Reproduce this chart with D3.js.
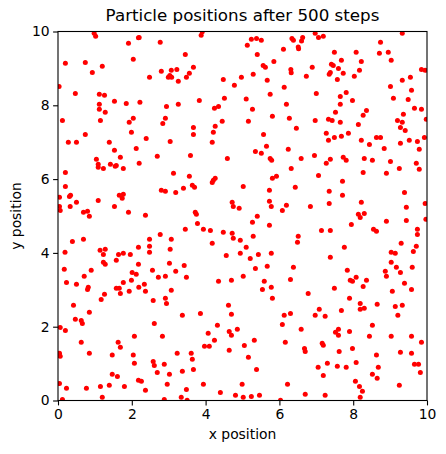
<!DOCTYPE html>
<html>
<head>
<meta charset="utf-8">
<script src="https://cdn.jsdelivr.net/npm/d3@7"></script>
<style>
  body { margin: 0; background: #fff; }
  svg { display: block; font-family: 'DejaVu Sans', sans-serif; }
</style>
</head>
<body>
<svg id="area" width="446" height="454"></svg>
<script>
// particle positions (top, middle, bottom x left, centre, right)
const xTopLeft = [0.98, 1.02, 1.91, 2.18, 2.20, 2.77, 0.20, 0.74, 1.20, 0.93, 2.04, 2.48, 2.80, 3.07, 2.99, 3.08, 3.03, 0.03, 0.47, 1.12, 1.26, 1.12, 1.12, 1.28, 1.53, 1.85, 2.22, 2.94, 0.12, 1.15, 2.04, 1.93, 2.91, 2.84, 1.99, 0.74, 2.39, 0.28, 0.50, 1.39, 3.04, 2.12];
const yTopLeft = [9.95, 9.87, 9.68, 9.83, 9.84, 9.71, 9.14, 9.16, 9.06, 8.89, 9.25, 8.76, 8.92, 8.95, 8.76, 8.76, 8.81, 8.51, 8.32, 8.30, 8.27, 8.03, 7.89, 7.81, 8.11, 8.05, 8.08, 7.97, 7.59, 7.59, 7.65, 7.54, 7.65, 7.51, 7.27, 7.21, 7.10, 7.00, 7.00, 7.00, 7.02, 6.83];

const xTopMid = [3.91, 3.88, 5.13, 5.24, 5.38, 5.51, 6.34, 6.38, 6.51, 6.52, 6.11, 3.45, 5.40, 5.85, 5.56, 5.62, 3.22, 3.67, 3.56, 3.48, 3.26, 6.31, 6.32, 5.29, 4.97, 4.48, 4.78, 5.67, 6.13, 5.75, 4.51, 3.83, 5.10, 3.26, 4.35, 4.24, 5.27, 6.19, 5.81, 6.27, 4.45, 5.16, 4.26, 3.67, 6.46, 4.21, 3.67, 5.57, 4.18, 5.65, 6.24];
const yTopMid = [9.99, 9.90, 9.63, 9.79, 9.81, 9.76, 9.81, 9.76, 9.58, 9.53, 9.52, 9.38, 9.38, 9.19, 9.08, 9.03, 8.97, 9.03, 8.87, 8.76, 8.65, 8.97, 8.88, 8.84, 8.76, 8.70, 8.54, 8.68, 8.49, 8.30, 8.19, 8.13, 8.17, 8.03, 7.97, 7.92, 7.89, 8.03, 7.70, 7.65, 7.57, 7.57, 7.43, 7.40, 7.38, 7.27, 7.21, 7.21, 7.00, 6.89, 6.81];

const xTopRight = [6.97, 7.06, 7.19, 6.63, 6.60, 9.33, 8.74, 7.49, 8.08, 8.71, 8.95, 7.68, 8.22, 9.03, 6.89, 7.41, 7.46, 7.60, 7.38, 7.35, 7.73, 8.17, 6.73, 7.57, 8.03, 9.85, 9.95, 9.33, 9.55, 9.01, 9.58, 7.00, 7.81, 7.65, 7.98, 9.09, 9.49, 7.65, 9.66, 9.85, 8.36, 7.52, 8.27, 9.36, 7.33, 7.43, 6.97, 7.65, 8.14, 9.20, 9.33, 9.28, 9.41, 9.98, 7.27, 7.87, 7.49, 7.68, 7.33, 8.22, 8.63, 8.74, 8.44, 9.52, 9.74, 9.93, 9.28, 8.84, 9.79];
const yTopRight = [9.95, 9.84, 9.87, 9.84, 9.74, 9.95, 9.71, 9.44, 9.44, 9.41, 9.44, 9.22, 9.19, 9.22, 9.03, 9.11, 9.08, 9.00, 8.89, 8.84, 8.87, 8.95, 8.79, 8.70, 8.79, 8.97, 8.95, 8.68, 8.76, 8.51, 8.41, 8.32, 8.35, 8.24, 8.13, 8.19, 8.16, 8.03, 7.92, 7.89, 7.86, 7.81, 7.73, 7.76, 7.62, 7.59, 7.59, 7.54, 7.48, 7.59, 7.54, 7.40, 7.32, 7.62, 7.24, 7.24, 7.13, 7.16, 7.05, 7.05, 7.13, 7.13, 6.94, 7.05, 7.02, 7.13, 6.97, 6.83, 6.81];

const xMidLeft = [1.53, 1.04, 1.09, 1.09, 1.23, 1.42, 1.55, 1.58, 1.69, 1.77, 2.20, 2.69, 0.20, 3.13, 0.20, 0.04, 0.31, 0.34, 0.50, 0.33, 0.04, 0.06, 1.09, 1.66, 1.77, 1.74, 1.53, 0.69, 0.80, 0.85, 1.91, 2.37, 2.80, 2.91, 0.39, 0.69, 0.19, 1.14, 1.28, 1.23, 1.64, 1.77, 1.96, 1.58, 1.23, 1.28, 2.18, 2.48, 2.48, 2.48, 2.77, 3.07, 3.04, 0.17, 0.90, 2.18, 3.02, 2.56, 2.01, 2.12];
const yMidLeft = [6.78, 6.54, 6.40, 6.32, 6.29, 6.40, 6.35, 6.37, 6.59, 6.29, 6.43, 6.62, 6.18, 6.16, 5.80, 5.51, 5.53, 5.56, 5.37, 5.26, 5.26, 5.15, 5.42, 5.56, 5.59, 5.48, 5.26, 5.10, 5.13, 4.99, 5.10, 5.02, 5.70, 5.67, 4.31, 4.37, 4.02, 4.07, 4.10, 3.96, 3.96, 3.99, 3.96, 3.80, 3.75, 3.69, 4.15, 4.37, 4.18, 4.02, 4.50, 4.37, 4.10, 3.56, 3.53, 3.69, 3.72, 3.53, 3.47, 3.42];

const xMidMid = [3.19, 3.59, 4.59, 5.35, 5.51, 5.75, 5.79, 3.56, 3.64, 3.70, 3.40, 4.26, 4.21, 4.18, 5.02, 5.81, 5.92, 6.32, 5.73, 6.43, 4.72, 4.75, 4.91, 5.73, 5.78, 6.19, 6.08, 3.72, 3.75, 3.78, 3.45, 3.94, 4.13, 5.40, 5.27, 5.73, 4.48, 4.72, 4.75, 4.94, 5.29, 6.51, 6.49, 4.18, 5.10, 4.56, 4.94, 5.21, 5.43, 5.78, 3.42, 5.35, 5.67, 6.38, 3.19];
const yMidMid = [5.64, 6.64, 6.56, 6.75, 6.70, 6.56, 6.51, 6.08, 5.83, 5.78, 5.75, 6.02, 5.97, 5.91, 5.80, 6.02, 6.08, 6.29, 5.70, 5.78, 5.37, 5.26, 5.21, 5.40, 5.26, 5.29, 5.15, 5.10, 5.05, 4.80, 4.64, 4.64, 4.61, 4.99, 4.83, 4.75, 4.56, 4.53, 4.40, 4.34, 4.45, 4.45, 4.29, 4.26, 4.15, 3.93, 3.99, 3.85, 3.96, 3.99, 3.66, 3.58, 3.64, 3.61, 3.50];

const xMidRight = [6.59, 6.95, 7.27, 7.38, 7.73, 7.81, 8.30, 8.52, 9.01, 9.25, 9.71, 9.79, 7.06, 8.27, 8.90, 7.71, 7.35, 7.71, 9.39, 7.35, 6.84, 8.22, 8.14, 8.19, 8.30, 9.44, 9.95, 8.90, 9.44, 9.97, 7.95, 7.14, 7.38, 8.55, 8.63, 9.74, 9.74, 9.30, 9.71, 9.63, 7.76, 9.03, 9.14, 7.38, 9.03, 7.84, 9.17, 9.60, 8.87, 9.28];
const yMidRight = [6.56, 6.64, 6.43, 6.54, 6.59, 6.51, 6.56, 6.51, 6.48, 6.29, 6.43, 6.27, 6.10, 6.18, 6.16, 5.94, 5.67, 5.56, 5.64, 5.34, 5.26, 5.37, 5.05, 4.96, 5.07, 5.24, 5.34, 4.86, 4.88, 4.91, 4.77, 4.61, 4.61, 4.64, 4.59, 4.64, 4.50, 4.26, 4.18, 4.04, 4.15, 4.02, 3.99, 3.88, 3.75, 3.53, 3.61, 3.61, 3.50, 3.47];

const xLowLeft = [0.23, 0.50, 0.71, 0.80, 0.82, 1.17, 1.26, 1.58, 1.66, 1.69, 1.77, 1.93, 1.99, 2.19, 2.34, 2.37, 2.72, 2.91, 2.58, 2.91, 2.94, 3.07, 0.42, 0.47, 0.63, 0.66, 0.85, 0.06, 0.20, 2.61, 0.63, 0.85, 0.04, 0.06, 1.47, 1.63, 1.69, 2.07, 2.83, 2.04, 2.07, 2.58, 2.61, 2.88, 2.69, 3.02, 1.47, 1.61, 2.18, 2.26, 1.15, 1.39, 1.80, 2.96, 0.04, 0.23, 0.77, 2.37, 1.20, 0.12, 2.88];
const yLowLeft = [3.20, 3.15, 3.37, 3.01, 3.07, 2.74, 2.88, 3.04, 3.04, 2.90, 3.20, 2.96, 3.26, 3.07, 3.15, 2.96, 3.34, 3.37, 2.71, 2.77, 2.63, 2.99, 2.58, 2.20, 2.17, 2.09, 2.39, 1.98, 1.90, 2.09, 1.58, 1.28, 1.28, 1.20, 1.23, 1.58, 1.44, 1.74, 1.74, 1.23, 1.01, 1.06, 0.95, 0.98, 0.76, 0.71, 0.71, 0.65, 0.55, 0.52, 0.38, 0.41, 0.38, 0.44, 0.46, 0.33, 0.33, 0.28, 0.09, 0.03, 0.03];

const xLowMid = [3.48, 4.35, 4.70, 5.02, 5.59, 5.54, 5.78, 5.81, 6.30, 4.62, 4.70, 3.86, 3.37, 4.32, 4.86, 4.64, 4.70, 4.07, 4.24, 3.97, 4.10, 5.05, 5.32, 4.64, 5.16, 3.23, 3.61, 3.64, 3.67, 3.37, 5.38, 6.13, 6.30, 6.08, 6.16, 3.94, 4.99, 6.22, 3.48, 4.40, 3.34, 3.50, 4.81, 5.02, 5.24, 5.46, 6.03];
const yLowMid = [3.34, 3.23, 3.26, 3.37, 3.23, 3.01, 3.07, 2.77, 3.28, 2.58, 2.34, 2.36, 2.31, 2.04, 1.93, 1.87, 1.77, 1.82, 1.63, 1.47, 1.47, 1.49, 1.63, 1.36, 1.17, 1.28, 1.28, 1.12, 0.84, 0.79, 0.84, 2.31, 2.36, 2.06, 1.58, 0.44, 0.44, 0.44, 0.30, 0.22, 0.09, 0.01, 0.14, 0.09, 0.11, 0.14, 0.01];

const xLowRight = [7.92, 7.98, 8.08, 8.36, 8.90, 8.27, 9.39, 9.58, 9.06, 6.78, 7.49, 7.90, 8.19, 8.19, 8.30, 8.65, 9.14, 9.33, 9.21, 7.08, 6.97, 7.24, 7.68, 6.59, 7.52, 7.60, 7.60, 7.90, 8.52, 8.44, 9.03, 9.58, 9.85, 7.16, 7.19, 6.68, 6.70, 7.62, 7.98, 8.63, 9.28, 9.58, 8.08, 7.30, 7.05, 7.57, 7.81, 8.68, 9.66, 9.77, 9.82, 8.52, 8.65, 7.19, 8.06, 8.17, 8.25, 8.19, 9.25, 6.70, 7.24];
const yLowRight = [3.26, 3.23, 3.34, 3.26, 3.37, 3.09, 3.18, 3.01, 2.96, 2.90, 3.04, 2.77, 2.63, 2.47, 2.50, 2.61, 2.55, 2.58, 2.31, 2.47, 2.31, 2.28, 2.44, 1.93, 1.85, 1.93, 1.77, 1.87, 2.04, 1.74, 1.74, 1.74, 1.58, 1.55, 1.50, 1.41, 1.33, 1.33, 1.41, 1.23, 1.31, 1.28, 1.03, 1.01, 0.90, 0.93, 0.90, 0.90, 0.98, 0.98, 0.76, 0.71, 0.60, 0.68, 0.52, 0.38, 0.25, 0.09, 0.41, 0.17, 0.14];

const ticks = [0, 2, 4, 6, 8, 10];
const title = 'Particle positions after 500 steps';

const xs = [].concat(xTopLeft, xTopMid, xTopRight, xMidLeft, xMidMid, xMidRight, xLowLeft, xLowMid, xLowRight);
const ys = [].concat(yTopLeft, yTopMid, yTopRight, yMidLeft, yMidMid, yMidRight, yLowLeft, yLowMid, yLowRight);
const points = d3.zip(xs, ys);

const margin = { top: 31.5, left: 58, size: 369 };
const svg = d3.select('#area');

const x = d3.scaleLinear().domain([0, 10]).range([margin.left, margin.left + margin.size]);
const y = d3.scaleLinear().domain([0, 10]).range([margin.top + margin.size, margin.top]);

svg.append('clipPath')
  .attr('id', 'clip')
  .append('rect')
  .attr('x', margin.left)
  .attr('y', margin.top)
  .attr('width', margin.size)
  .attr('height', margin.size);

svg.append('g')
  .attr('clip-path', 'url(#clip)')
  .selectAll('circle')
  .data(points)
  .join('circle')
  .attr('cx', (d) => x(d[0]))
  .attr('cy', (d) => y(d[1]))
  .attr('r', 2.5)
  .attr('fill', '#ff0000');

const xAxis = d3.axisBottom(x).tickValues(ticks).tickSize(4.9).tickPadding(3.5).tickSizeOuter(0);
const yAxis = d3.axisLeft(y).tickValues(ticks).tickSize(4.9).tickPadding(3.5).tickSizeOuter(0);

const gx = svg.append('g')
  .attr('transform', `translate(0, ${margin.top + margin.size})`)
  .call(xAxis);
const gy = svg.append('g')
  .attr('transform', `translate(${margin.left}, 0)`)
  .call(yAxis);

[gx, gy].forEach((g) => {
  g.select('.domain').remove();
  g.selectAll('line').attr('stroke', '#000').attr('stroke-width', 1.1);
  g.selectAll('text')
    .attr('fill', '#000')
    .style('font-family', "'DejaVu Sans', sans-serif")
    .style('font-size', '13.9px');
});

// frame on top of the dots
svg.append('rect')
  .attr('x', margin.left)
  .attr('y', margin.top)
  .attr('width', margin.size)
  .attr('height', margin.size)
  .attr('fill', 'none')
  .attr('stroke', '#000')
  .attr('stroke-width', 1.1);

svg.append('text')
  .attr('x', margin.left + margin.size / 2)
  .attr('y', 21)
  .attr('text-anchor', 'middle')
  .style('font-size', '16.7px')
  .attr('fill', '#000')
  .text(title);

svg.append('text')
  .attr('x', margin.left + margin.size / 2)
  .attr('y', 439)
  .attr('text-anchor', 'middle')
  .style('font-size', '13.9px')
  .attr('fill', '#000')
  .text('x position');

svg.append('text')
  .attr('transform', `translate(21, ${margin.top + margin.size / 2}) rotate(-90)`)
  .attr('text-anchor', 'middle')
  .style('font-size', '13.9px')
  .attr('fill', '#000')
  .text('y position');
</script>
</body>
</html>
